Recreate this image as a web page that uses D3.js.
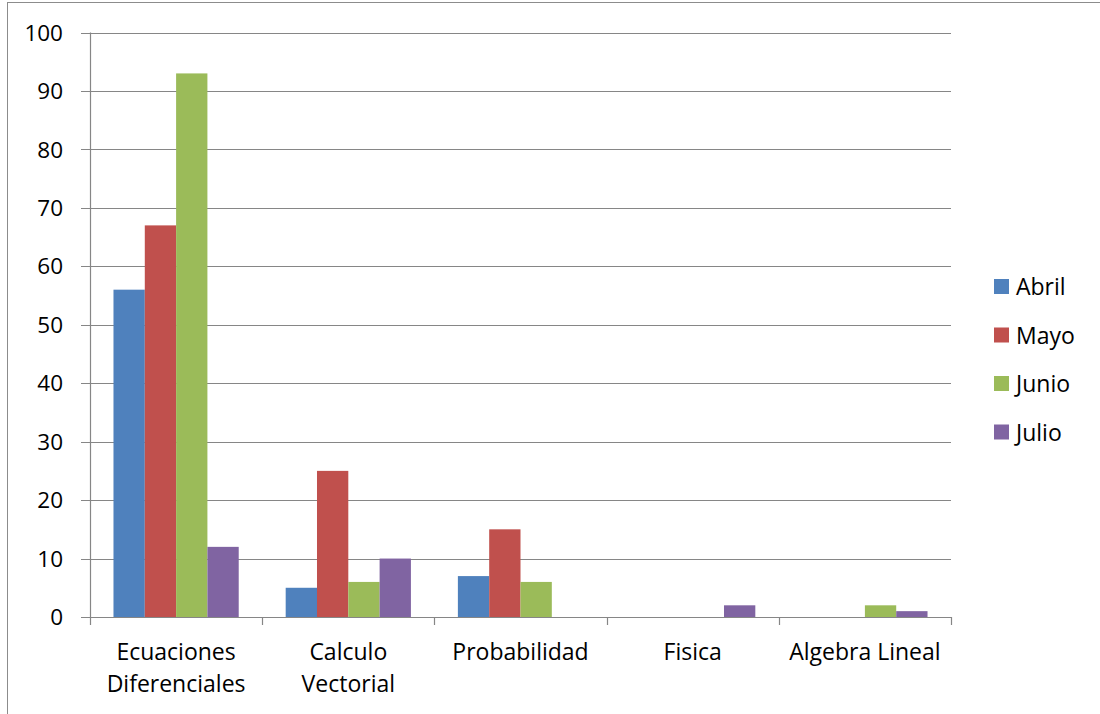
<!DOCTYPE html>
<html><head><meta charset="utf-8">
<script src="https://cdn.jsdelivr.net/npm/d3@7"></script>
<style>body{margin:0;background:#fff}svg{display:block}text{font-family:"Open Sans",Lato,sans-serif;fill:#000}</style>
</head><body><svg id="c" width="1100" height="714"></svg>
<script>
const categories = [["Ecuaciones","Diferenciales"],["Calculo","Vectorial"],["Probabilidad"],["Fisica"],["Algebra Lineal"]];
const seriesNames = ["Abril","Mayo","Junio","Julio"];
const colors = ["#4F81BD","#C0504D","#9BBB59","#8064A2"];
const abril = [56,5,7,0,0];
const mayo = [67,25,15,0,0];
const junio = [93,6,6,0,2];
const julio = [12,10,0,2,1];
const yTicks = [0,10,20,30,40,50,60,70,80,90,100];

const series = [abril,mayo,junio,julio];
const svg = d3.select("#c");
svg.append("rect").attr("x",7.5).attr("y",2.5).attr("width",1200).attr("height",800)
  .attr("fill","none").attr("stroke","#8c8c8c").attr("stroke-width",1);

const x0 = 90, x1 = 951, yTop = 32.5, yBot = 617;
const x = d3.scaleBand().domain(d3.range(categories.length)).range([x0,x1]).paddingInner(0).paddingOuter(0);
const y = d3.scaleLinear().domain([0,100]).range([yBot,yTop]);
const gap = x.bandwidth()*(1.5/5.5)/2;
const xs = d3.scaleBand().domain(d3.range(series.length)).range([0,x.bandwidth()-2*gap]);

const grid = svg.append("g");
grid.selectAll("line").data(yTicks).join("line")
  .attr("x1",81).attr("x2",x1).attr("y1",d=>Math.round(y(d))+0.5).attr("y2",d=>Math.round(y(d))+0.5)
  .attr("stroke","#868686").attr("stroke-width",1.2);

series.forEach((s,i)=>{
  svg.append("g").selectAll("rect").data(s).join("rect")
    .attr("x",(d,j)=>x(j)+gap+xs(i))
    .attr("width",xs.bandwidth())
    .attr("y",d=>y(d)).attr("height",d=>yBot-y(d))
    .attr("fill",colors[i]);
});

svg.append("line").attr("x1",x0+0.5).attr("x2",x0+0.5).attr("y1",yTop).attr("y2",yBot)
  .attr("stroke","#868686").attr("stroke-width",1.2);
svg.append("g").selectAll("text").data(yTicks).join("text")
  .attr("x",63).attr("y",d=>y(d)).attr("dy","0.36em").attr("text-anchor","end")
  .attr("font-size",22.5).text(d=>d);

svg.append("line").attr("x1",x0).attr("x2",x1).attr("y1",yBot+0.5).attr("y2",yBot+0.5)
  .attr("stroke","#868686").attr("stroke-width",1.2);
const bounds = d3.range(categories.length+1).map(i=>i<categories.length?x(i):x1);
svg.append("g").selectAll("line").data(bounds).join("line")
  .attr("x1",d=>Math.round(d)+0.5).attr("x2",d=>Math.round(d)+0.5).attr("y1",yBot).attr("y2",yBot+8)
  .attr("stroke","#868686").attr("stroke-width",1.2);
const cl = svg.append("g").selectAll("text").data(categories).join("text")
  .attr("x",(d,i)=>x(i)+x.bandwidth()/2).attr("y",660).attr("text-anchor","middle").attr("font-size",23);
cl.selectAll("tspan").data(d=>d).join("tspan")
  .attr("x",function(){return this.parentNode.getAttribute("x");})
  .attr("dy",(d,k)=>k===0?0:32).text(d=>d);

const lg = svg.append("g").selectAll("g").data(seriesNames).join("g")
  .attr("transform",(d,i)=>`translate(994,${279+i*48.5})`);
lg.append("rect").attr("width",15).attr("height",15).attr("fill",(d,i)=>colors[i]);
lg.append("text").attr("x",22).attr("y",16).attr("font-size",23).text(d=>d);
</script></body></html>
